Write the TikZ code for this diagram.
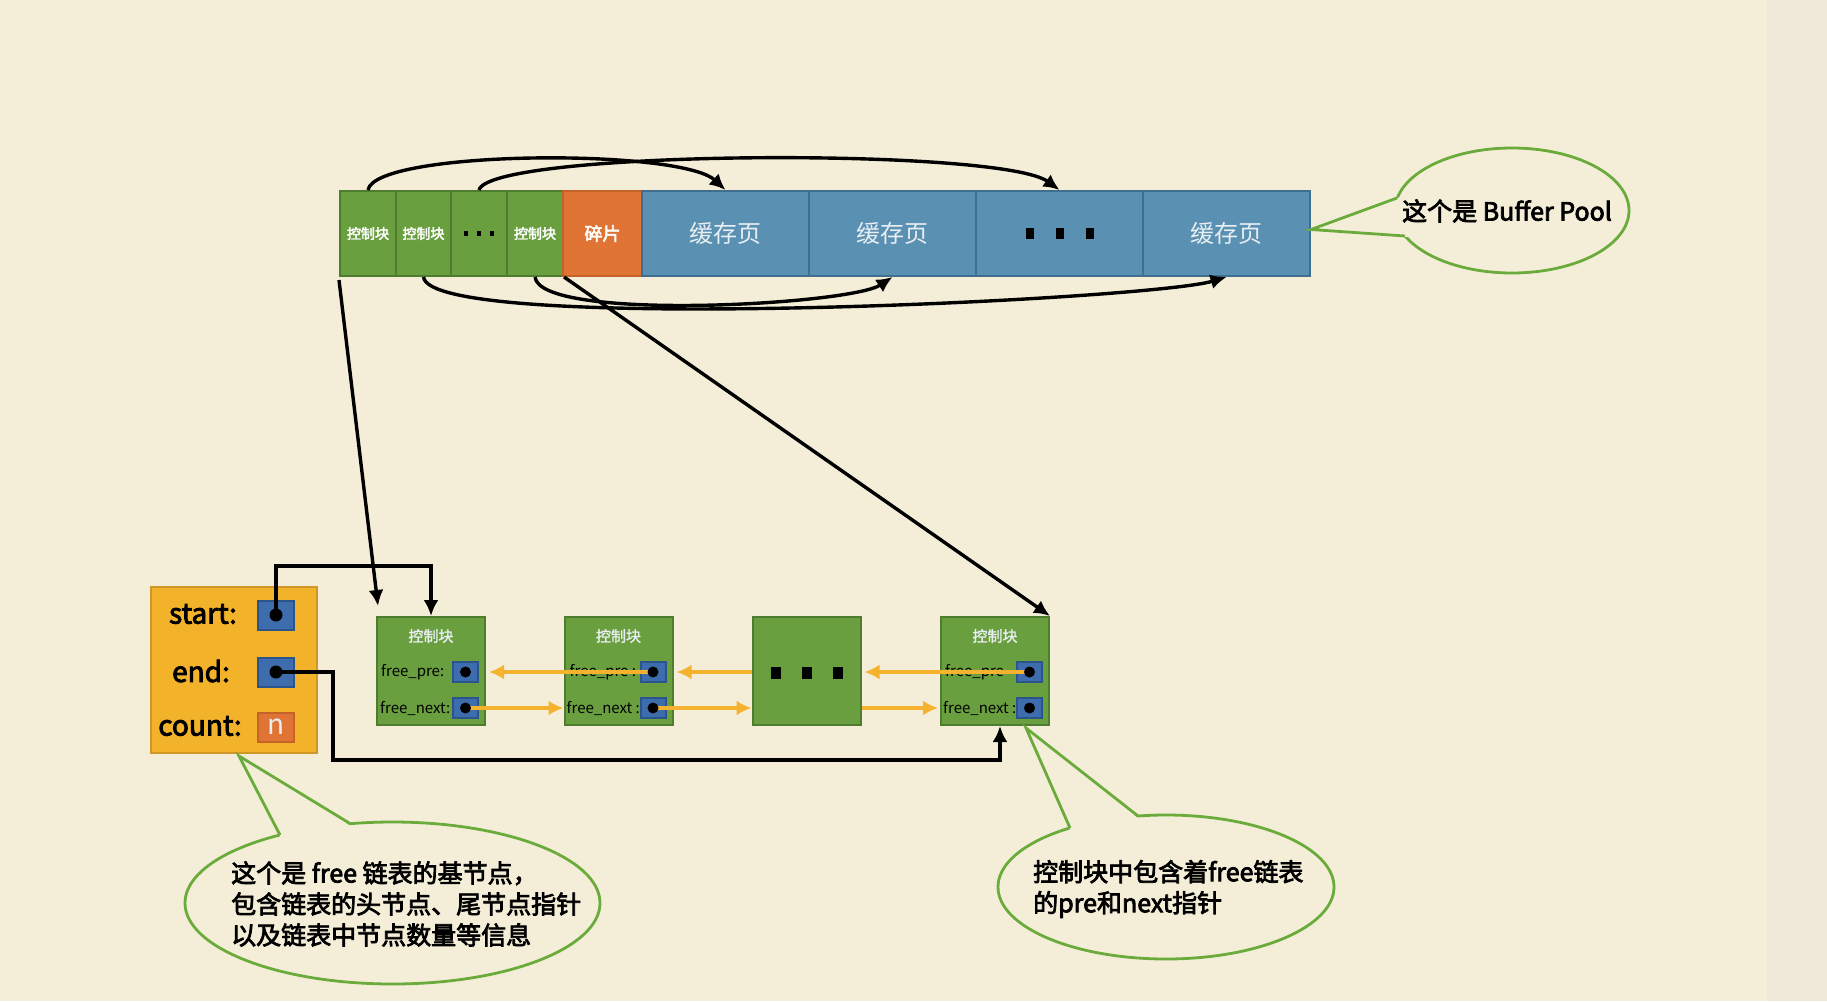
\documentclass[tikz,border=0pt]{standalone}
\usepackage{fontspec}
\setmainfont{Noto Sans CJK SC}
\newfontfamily\bcjk[FakeBold=3]{Noto Sans CJK SC}
\newfontfamily\mcjk[FakeBold=1.5]{Noto Sans CJK SC}
\usetikzlibrary{arrows.meta,calc}
\definecolor{bg}{HTML}{F4EED8}
\definecolor{strip}{HTML}{EFE8D8}
\definecolor{gfill}{HTML}{6A9F3F}
\definecolor{gborder}{HTML}{4F7D2F}
\definecolor{pfill}{HTML}{5A91B3}
\definecolor{pborder}{HTML}{3F6E8E}
\definecolor{ofill}{HTML}{E07434}
\definecolor{oborder}{HTML}{C46228}
\definecolor{yfill}{HTML}{F2B32A}
\definecolor{yborder}{HTML}{D09626}
\definecolor{sbfill}{HTML}{3E6DAE}
\definecolor{sbborder}{HTML}{2B548A}
\definecolor{amber}{HTML}{F5B22F}
\definecolor{cgreen}{HTML}{6AAB3C}
\definecolor{ptext}{HTML}{E8EEF2}
\begin{document}
\begin{tikzpicture}[x=1pt,y=-1pt,
  cellg/.style={draw=gborder,fill=gfill,line width=2pt,minimum height=85pt,inner sep=0pt,text=white,font=\bcjk\fontsize{14}{16}\selectfont},
  fragc/.style={draw=oborder,fill=ofill,line width=2pt,minimum height=85pt,inner sep=0pt,text=white,font=\bcjk\fontsize{18}{20}\selectfont},
  pagec/.style={draw=pborder,fill=pfill,line width=2pt,minimum height=85pt,minimum width=167pt,inner sep=0pt,text=ptext,font=\fontsize{24}{26}\selectfont},
  lnode/.style={draw=gborder,fill=gfill,line width=2pt,minimum width=108pt,minimum height=108pt,inner sep=0pt},
  ltitle/.style={text=ptext,font=\mcjk\fontsize{15}{16}\selectfont,inner sep=0pt},
  flabel/.style={anchor=west,inner sep=0pt,font=\fontsize{15}{16}\selectfont},
  pbox/.style={draw=sbborder,fill=sbfill,line width=2pt,minimum width=25pt,minimum height=20pt,inner sep=0pt},
  bbox/.style={draw=sbborder,fill=sbfill,line width=2pt,minimum width=36pt,minimum height=29pt,inner sep=0pt},
  blab/.style={inner sep=0pt,font=\bcjk\fontsize{28}{30}\selectfont},
  blk/.style={draw=black,line width=3.4pt,-{Latex[length=16pt,width=15pt]}},
  oarr/.style={draw=amber,line width=3.4pt,-{Latex[length=15pt,width=15pt]}},
  callout/.style={draw=cgreen,line width=2.8pt},
  ctext/.style={inner sep=0pt,font=\bcjk\fontsize{25}{31}\selectfont,align=left},
  sq/.style={fill=black}
]
\fill[bg] (0,0) rectangle (1827,1001);
\fill[strip] (1767,0) rectangle (1827,1001);
\useasboundingbox (0,0) rectangle (1827,1001);

% top bar
\node[cellg,minimum width=56pt] (c1) at (368,233.5) {控制块};
\node[cellg,minimum width=55pt] (c2) at (423.5,233.5) {控制块};
\node[cellg,minimum width=56pt] (c3) at (479,233.5) {};
\node[cellg,minimum width=56pt] (c4) at (535,233.5) {控制块};
\node[fragc,minimum width=79pt] (fr) at (602.5,233.5) {碎片};
\node[pagec] (p1) at (725.5,233.5) {缓存页};
\node[pagec] (p2) at (892.5,233.5) {缓存页};
\node[pagec] (p3) at (1059.5,233.5) {};
\node[pagec] (p4) at (1226.5,233.5) {缓存页};
\foreach \dx in {-13,0,13} \fill[sq] ($(c3.center)+(\dx-2,-2.5)$) rectangle ($(c3.center)+(\dx+2,2.5)$);
\foreach \dx in {-30,0,30} \fill[sq] ($(p3.center)+(\dx-4,-5.5)$) rectangle ($(p3.center)+(\dx+4,5.5)$);

% bar arcs
\draw[blk] (c1.north) .. controls (375,150) and (680,148) .. (p1.north);
\draw[blk] (c3.north) .. controls (490,150) and (1000,147) .. (p3.north);
\draw[blk] (c2.south) .. controls (430,335) and (1150,300) .. (p4.south);
\draw[blk] (c4.south) .. controls (540,322) and (850,305) .. (p2.south);

% free list base node
\node[draw=yborder,fill=yfill,line width=2pt,minimum width=166pt,minimum height=166pt,inner sep=0pt] (base) at (234,670) {};
\node[blab] (ls) at (203,614) {start:};
\node[blab] (le) at (201,671) {end:};
\node[blab] (lc) at (200,726) {count:};
\node[bbox] (sb) at (276,615) {};
\node[bbox] (eb) at (276,672) {};
\node[bbox,draw=oborder,fill=ofill,text=ptext,font=\fontsize{28}{30}\selectfont] (cb) at (276,727) {n};

% list nodes
\node[lnode] (n1) at (431,671) {};
\node[lnode] (n2) at (618.5,671) {};
\node[lnode] (n3) at (806.5,671) {};
\node[lnode] (n4) at (995,671) {};
\node[ltitle] (n1t) at (431,636) {控制块};
\node[ltitle] (n2t) at (618.5,636) {控制块};
\node[ltitle] (n4t) at (995,636) {控制块};
\foreach \dx in {-31,0,31} \fill[sq] ($(n3.center)+(\dx-5,-4)$) rectangle ($(n3.center)+(\dx+5,8)$);

\node[flabel] (n1pl) at ($(n1.west)+(5,1)$) {free\_pre:};
\node[flabel] (n1nl) at ($(n1.west)+(4,37)$) {free\_next:};
\node[flabel] (n2pl) at ($(n2.west)+(6,1)$) {free\_pre :};
\node[flabel] (n2nl) at ($(n2.west)+(3,37)$) {free\_next :};
\node[flabel] (n4pl) at ($(n4.west)+(5,1)$) {free\_pre};
\node[flabel] (n4nl) at ($(n4.west)+(3,37)$) {free\_next :};

\node[pbox] (n1p) at ($(n1.east)+(-20.5,1)$) {};
\node[pbox] (n1n) at ($(n1.east)+(-20.5,37)$) {};
\node[pbox] (n2p) at ($(n2.east)+(-20.5,1)$) {};
\node[pbox] (n2n) at ($(n2.east)+(-20.5,37)$) {};
\node[pbox] (n4p) at ($(n4.east)+(-20.5,1)$) {};
\node[pbox] (n4n) at ($(n4.east)+(-20.5,37)$) {};

% orange arrows
\draw[oarr] (n2p.center) -- ($(n1.east |- n2p.center)+(3,0)$);
\draw[oarr] (n3.west |- n2p.center) -- ($(n2.east |- n2p.center)+(3,0)$);
\draw[oarr] (n4p.center) -- ($(n3.east |- n4p.center)+(3,0)$);
\draw[oarr] (n1n.center) -- (n2.west |- n1n.center);
\draw[oarr] (n2n.center) -- (n3.west |- n2n.center);
\draw[oarr] (n3.east |- n2n.center) -- ($(n4.west |- n4n.center)+(-2,0)$);

% black pointers
\draw[blk] ([yshift=-3pt]c1.south west) -- ([xshift=2pt,yshift=10pt]n1.north west);
\draw[blk] (c4.south east) -- (n4.north east);
\draw[blk] (sb.center) -- ++(0,-49) -| (n1.north);
\draw[blk] (eb.center) -| (333,760) -| ([xshift=5pt]n4.south);

% dots
\foreach \n in {n1p,n1n,n2p,n2n,n4p,n4n} \fill[black] (\n.center) circle (5.5pt);
\fill[black] (sb.center) circle (6.5pt);
\fill[black] (eb.center) circle (6.5pt);

% callout top right
\coordinate (tipA) at ([yshift=4pt]p4.east);
\draw[callout,fill=bg] (1512,210.5) ellipse [x radius=117pt, y radius=62.5pt];
\fill[bg] (1399,197.5) -- (tipA) -- (1408,237) -- (1415,230) -- (1414,205) -- cycle;
\draw[callout,line join=miter] (1397,198) -- (tipA) -- (1405,236);
\node[ctext] (ta) at (1507,211) {这个是 Buffer Pool};

% callout bottom left
\coordinate (tipB) at ([xshift=5pt,yshift=-2pt]base.south);
\draw[callout,fill=bg] (392.5,903) ellipse [x radius=207.5pt, y radius=81pt];
\fill[bg] (281,838) -- (tipB) -- (351,826) -- (345,835) -- (290,842) -- cycle;
\draw[callout,line join=miter] (280,835) -- (tipB) -- (350,823.5);
\node[ctext,anchor=west] (tb) at (231,904) {这个是 free 链表的基节点，\\包含链表的头节点、尾节点指针\\以及链表中节点数量等信息};

% callout bottom right
\coordinate (tipC) at ([xshift=-24pt,yshift=-2pt]n4.south east);
\draw[callout,fill=bg] (1166,887) ellipse [x radius=168pt, y radius=72pt];
\fill[bg] (1071,831) -- (tipC) -- (1139,819) -- (1130,828) -- (1080,834) -- cycle;
\draw[callout,line join=miter] (1070,828) -- (tipC) -- (1138,816);
\node[ctext,anchor=west] (tc) at (1033,889) {控制块中包含着free链表\\的pre和next指针};
\end{tikzpicture}
\end{document}
